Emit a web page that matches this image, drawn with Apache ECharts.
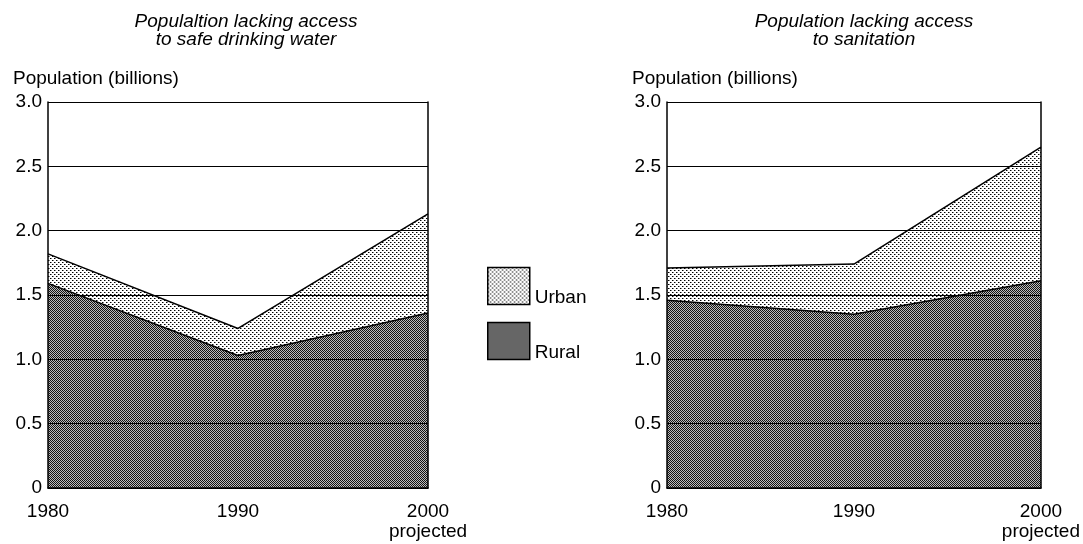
<!DOCTYPE html>
<html><head><meta charset="utf-8">
<script src="https://cdn.jsdelivr.net/npm/echarts@6/dist/echarts.min.js"></script>
<style>html,body{margin:0;padding:0;background:#fff}#c{width:1083px;height:544px}</style>
</head><body><div id="c"></div>
<script>
var years = ['1980', '1990', '2000'];
var yTicks = ['0', '0.5', '1.0', '1.5', '2.0', '2.5', '3.0'];
var waterRural = [1.59, 1.03, 1.36];
var waterUrban = [0.23, 0.21, 0.77];
var sanRural = [1.46, 1.35, 1.61];
var sanUrban = [0.25, 0.39, 1.04];

function makePattern(kind) {
  var c = document.createElement('canvas');
  var ctx = c.getContext('2d');
  if (kind === 'urban') {
    c.width = 4; c.height = 4;
    ctx.fillStyle = '#fff'; ctx.fillRect(0, 0, 4, 4);
    ctx.fillStyle = '#000'; ctx.fillRect(0, 0, 1, 1); ctx.fillRect(2, 2, 1, 1);
    ctx.fillStyle = '#888'; ctx.fillRect(1, 0, 1, 1); ctx.fillRect(3, 2, 1, 1);
  } else {
    c.width = 2; c.height = 2;
    ctx.fillStyle = '#bbbbbb'; ctx.fillRect(0, 0, 2, 2);
    ctx.fillStyle = '#111'; ctx.fillRect(0, 0, 1, 1); ctx.fillRect(1, 1, 1, 1);
  }
  return { image: c, repeat: 'repeat' };
}
var urbanFill = makePattern('urban');
var ruralFill = makePattern('rural');

var font = 'Liberation Sans';
var grids = [
  { left: 48, width: 380, top: 102, height: 386 },
  { left: 667, width: 376, top: 102, height: 386 }
];
function xAx(i) {
  return {
    type: 'category', gridIndex: i, data: years, boundaryGap: false, z: 10,
    axisLine: { lineStyle: { color: '#000', width: 1.5 } },
    axisTick: { show: false },
    axisLabel: {
      color: '#000', fontFamily: font, fontSize: 19, margin: 14, lineHeight: 20,
      formatter: function (v) { return v === '2000' ? '2000\nprojected' : v; }
    },
    splitLine: { show: false }
  };
}
function yAx(i) {
  return {
    type: 'value', gridIndex: i, min: 0, max: 3, interval: 0.5, z: 10,
    axisLine: { show: true, lineStyle: { color: '#000', width: 1.5 } },
    axisTick: { show: false },
    axisLabel: {
      color: '#000', fontFamily: font, fontSize: 19, margin: 6,
      formatter: function (v) { return yTicks[Math.round(v / 0.5)]; }
    },
    splitLine: { show: true, lineStyle: { color: '#000', width: 1.2 } }
  };
}
function yRight(i) {
  return {
    type: 'value', gridIndex: i, position: 'right', min: 0, max: 3, interval: 0.5, z: 10,
    axisLine: { show: true, lineStyle: { color: '#000', width: 1.5 } },
    axisTick: { show: false }, axisLabel: { show: false }, splitLine: { show: false }
  };
}
function ser(name, data, gi, fill, stack) {
  return {
    name: name, type: 'line', xAxisIndex: gi, yAxisIndex: gi * 2, stack: stack,
    data: data, symbol: 'none', smooth: false,
    lineStyle: { color: '#000', width: 1.5 },
    itemStyle: { color: fill, borderColor: '#000' },
    areaStyle: { color: fill, opacity: 1 }
  };
}
var chart = echarts.init(document.getElementById('c'), null, { renderer: 'canvas' });
chart.setOption({
  animation: false,
  backgroundColor: '#fff',
  title: [
    { text: 'Populaltion lacking access\nto safe drinking water', left: 241, top: 8, textAlign: 'center',
      textStyle: { fontFamily: font, fontStyle: 'italic', fontWeight: 'normal', fontSize: 19, lineHeight: 18, color: '#000' } },
    { text: 'Population lacking access\nto sanitation', left: 859, top: 8, textAlign: 'center',
      textStyle: { fontFamily: font, fontStyle: 'italic', fontWeight: 'normal', fontSize: 19, lineHeight: 18, color: '#000' } },
    { text: 'Population (billions)', left: 8, top: 64,
      textStyle: { fontFamily: font, fontWeight: 'normal', fontSize: 19, color: '#000' } },
    { text: 'Population (billions)', left: 627, top: 64,
      textStyle: { fontFamily: font, fontWeight: 'normal', fontSize: 19, color: '#000' } }
  ],
  legend: {
    orient: 'vertical', left: 487, top: 262, itemWidth: 42, itemHeight: 37, itemGap: 7,
    selectedMode: false, padding: 0,
    formatter: function (n) { return '\n' + n; },
    textStyle: { fontFamily: font, fontSize: 19, lineHeight: 24, color: '#000' },
    data: [
      { name: 'Urban', icon: 'rect', itemStyle: { color: urbanFill, borderColor: '#000', borderWidth: 1.5 } },
      { name: 'Rural', icon: 'rect', itemStyle: { color: ruralFill, borderColor: '#000', borderWidth: 1.5 } }
    ]
  },
  grid: grids,
  xAxis: [xAx(0), xAx(1)],
  yAxis: [yAx(0), yRight(0), yAx(1), yRight(1)],
  series: [
    ser('Rural', waterRural, 0, ruralFill, 'w'),
    ser('Urban', waterUrban, 0, urbanFill, 'w'),
    ser('Rural', sanRural, 1, ruralFill, 's'),
    ser('Urban', sanUrban, 1, urbanFill, 's')
  ]
});
</script></body></html>
